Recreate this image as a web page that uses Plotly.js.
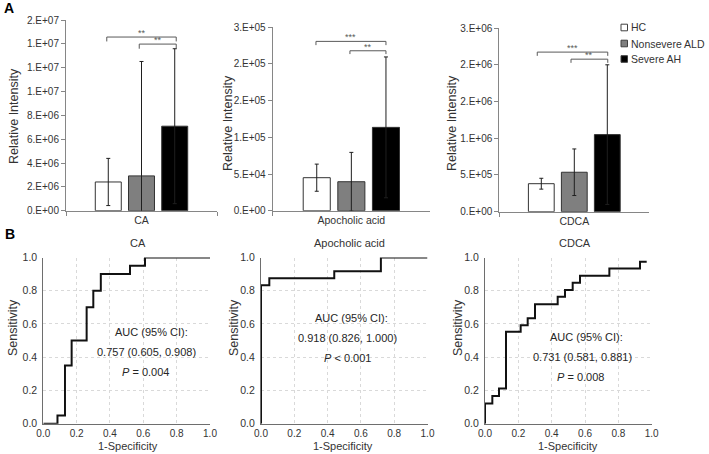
<!DOCTYPE html>
<html><head><meta charset="utf-8">
<script src="https://cdn.plot.ly/plotly-3.0.1.min.js"></script>
<style>html,body{margin:0;padding:0;background:#fff}#chart{width:709px;height:454px}</style>
</head><body><div id="chart"></div>
<script>
// ---------- data ----------
const groups = ['HC', 'Nonsevere ALD', 'Severe AH'];
const acids = ['CA', 'Apocholic acid', 'CDCA'];

const caMean = [2.41e6, 2.92e6, 7.09e6];
const caSD = [1.98e6, 9.6e6, 6.5e6];
const apoMean = [4.5e4, 3.95e4, 1.136e5];
const apoSD = [1.85e4, 4.0e4, 9.6e4];
const cdcaMean = [3.81e5, 5.37e5, 1.049e6];
const cdcaSD = [0.74e5, 3.17e5, 0.95e6];

const caTickVals = [0, 2e6, 4e6, 6e6, 8e6, 1e7, 1.2e7, 1.4e7, 1.6e7];
const caTickText = ['0.E+00', '2.E+06', '4.E+06', '6.E+06', '8.E+06', '1.E+07', '1.E+07', '1.E+07', '2.E+07'];
const apoTickVals = [0, 5e4, 1e5, 1.5e5, 2e5, 2.5e5];
const apoTickText = ['0.E+00', '5.E+04', '1.E+05', '2.E+05', '2.E+05', '3.E+05'];
const cdcaTickVals = [0, 5e5, 1e6, 1.5e6, 2e6, 2.5e6];
const cdcaTickText = ['0.E+00', '5.E+05', '1.E+06', '2.E+06', '2.E+06', '3.E+06'];

const sigLabels = [['**', '**'], ['***', '**'], ['***', '**']];

const caFpr = [0, 0.085, 0.13, 0.17, 0.26, 0.30, 0.345, 0.52, 0.61, 1.0];
const caTpr = [0, 0.05, 0.35, 0.50, 0.70, 0.80, 0.90, 0.95, 1.0, 1.0];
const apoFpr = [0, 0, 0.05, 0.44, 0.72, 1.0];
const apoTpr = [0, 0.833, 0.875, 0.917, 1.0, 1.0];
const cdcaFpr = [0, 0, 0.044, 0.084, 0.126, 0.214, 0.256, 0.30, 0.436, 0.48, 0.526, 0.57, 0.746, 0.93, 0.97];
const cdcaTpr = [0, 0.122, 0.166, 0.212, 0.553, 0.593, 0.635, 0.719, 0.764, 0.804, 0.848, 0.89, 0.934, 0.974, 0.974];

const caAuc = ['AUC (95% CI):', '0.757 (0.605, 0.908)', '<i>P</i> = 0.004'];
const apoAuc = ['AUC (95% CI):', '0.918 (0.826, 1.000)', '<i>P</i> < 0.001'];
const cdcaAuc = ['AUC (95% CI):', '0.731 (0.581, 0.881)', '<i>P</i> = 0.008'];

// ---------- layout helpers ----------
const W = 709, H = 454;
const px = p => p / W;
const py = p => 1 - p / H;
const FONT = 'Liberation Sans, Arial, sans-serif';
const TXT = '#333333';
const barColors = ['#ffffff', '#7f7f7f', '#000000'];

const means = [caMean, apoMean, cdcaMean];
const sds = [caSD, apoSD, cdcaSD];
const tickVals = [caTickVals, apoTickVals, cdcaTickVals];
const tickText = [caTickText, apoTickText, cdcaTickText];

const barPanels = [
  {x0: 66, x1: 217, top: 20, bot: 210.7, ymax: 1.6e7, titleX: 14, titleY: 116,
   br: [[-0.23, 0.23, 1.457e7, 1.42e7, 1.42e7], [-0.015, 0.23, 1.398e7, 1.359e7, 1.359e7]]},
  {x0: 272.7, x1: 430, top: 27.3, bot: 210.7, ymax: 2.5e5, titleX: 228, titleY: 123,
   br: [[-0.225, 0.22, 2.308e5, 2.257e5, 2.257e5], [-0.009, 0.22, 2.18e5, 2.135e5, 2.135e5]]},
  {x0: 499.3, x1: 649.3, top: 28, bot: 211.7, ymax: 2.5e6, titleX: 452, titleY: 123,
   br: [[-0.247, 0.223, 2.172e6, 2.121e6, 2.121e6], [-0.022, 0.223, 2.076e6, 2.026e6, 2.026e6]]}
];

const rocFpr = [caFpr, apoFpr, cdcaFpr];
const rocTpr = [caTpr, apoTpr, cdcaTpr];
const rocAuc = [caAuc, apoAuc, cdcaAuc];
const rocPanels = [
  {x0: 43.3, x1: 210, titleX: 138, ytX: 13, xtX: 128, aucX: [151, 146, 145.5], aucY: [331.7, 351.7, 371.7]},
  {x0: 261, x1: 427.5, titleX: 349, ytX: 234, xtX: 343, aucX: [351.7, 347.8, 347], aucY: [318.3, 338.3, 358.3]},
  {x0: 485, x1: 651.7, titleX: 575, ytX: 458, xtX: 568, aucX: [586, 582, 580.7], aucY: [337.3, 356.7, 376.7]}
];
const rocTop = 257.5, rocBot = 423.7;

const data = [];
const layout = {
  width: W, height: H,
  margin: {l: 0, r: 0, t: 0, b: 0},
  paper_bgcolor: '#ffffff', plot_bgcolor: 'rgba(0,0,0,0)',
  font: {family: FONT, color: TXT, size: 10},
  showlegend: false,
  barmode: 'group', bargap: 0.34, bargroupgap: 0.218,
  annotations: [], shapes: []
};

// ---------- bar panels ----------
barPanels.forEach((p, i) => {
  const n = i + 1;
  const xa = n === 1 ? 'x' : 'x' + n, ya = n === 1 ? 'y' : 'y' + n;
  const xk = n === 1 ? 'xaxis' : 'xaxis' + n, yk = n === 1 ? 'yaxis' : 'yaxis' + n;
  groups.forEach((g, j) => {
    data.push({
      type: 'bar', name: g, x: [acids[i]], y: [means[i][j]], xaxis: xa, yaxis: ya,
      marker: {color: barColors[j], line: {color: '#333333', width: 1}},
      error_y: {type: 'data', array: [sds[i][j]], visible: true, color: '#1f1f1f', thickness: 1, width: 2},
      hoverinfo: 'skip'
    });
  });
  layout[xk] = {
    domain: [px(p.x0), px(p.x1)], anchor: ya, type: 'category', range: [-0.5, 0.5],
    showline: true, linecolor: '#868686', linewidth: 1, ticks: 'outside', ticklen: 4,
    tickcolor: '#868686', tickson: 'boundaries', showgrid: false, zeroline: false,
    tickfont: {size: 10.5, color: TXT}, automargin: false, fixedrange: true
  };
  layout[yk] = {
    domain: [py(p.bot), py(p.top)], anchor: xa, range: [0, p.ymax],
    tickvals: tickVals[i], ticktext: tickText[i],
    showline: true, linecolor: '#868686', linewidth: 1, ticks: 'outside', ticklen: 4,
    tickcolor: '#868686', showgrid: false, zeroline: false,
    tickfont: {size: 10, color: TXT}, automargin: false, fixedrange: true
  };
  layout.annotations.push({
    text: 'Relative Intensity', xref: 'paper', yref: 'paper', x: px(p.titleX), y: py(p.titleY),
    textangle: -90, showarrow: false, font: {size: 12.5, color: TXT}, xanchor: 'center', yanchor: 'middle'
  });
  p.br.forEach((b, k) => {
    const [a, c, top, e1, e2] = b;
    const ln = {type: 'line', xref: xa, yref: ya, line: {color: '#595959', width: 1}};
    layout.shapes.push(Object.assign({}, ln, {x0: a, x1: c, y0: top, y1: top}));
    layout.shapes.push(Object.assign({}, ln, {x0: a, x1: a, y0: top, y1: e1}));
    layout.shapes.push(Object.assign({}, ln, {x0: c, x1: c, y0: top, y1: e2}));
    layout.annotations.push({
      text: sigLabels[i][k], xref: xa, yref: ya, x: (a + c) / 2, y: top,
      showarrow: false, xanchor: 'center', yanchor: 'bottom', yshift: -3,
      font: {size: 9, color: '#595959'}
    });
  });
});

// ---------- ROC panels ----------
rocPanels.forEach((p, i) => {
  const n = i + 4;
  const xa = 'x' + n, ya = 'y' + n;
  data.push({
    type: 'scatter', mode: 'lines', x: rocFpr[i], y: rocTpr[i], xaxis: xa, yaxis: ya,
    line: {color: '#111111', width: 2, shape: 'hv'}, cliponaxis: false, hoverinfo: 'skip'
  });
  const common = {
    range: [0, 1], dtick: 0.2, tick0: 0, tickformat: '.1f',
    showline: true, linecolor: '#6e6e6e', linewidth: 1, ticks: '',
    showgrid: true, gridcolor: '#d9d9d9', griddash: 'dot', gridwidth: 1,
    zeroline: false, tickfont: {size: 10.5, color: TXT}, automargin: false, fixedrange: true
  };
  layout['xaxis' + n] = Object.assign({}, common, {domain: [px(p.x0), px(p.x1)], anchor: ya,
    ticklabelstandoff: 0, tickfont: {size: 10, color: TXT}});
  layout['yaxis' + n] = Object.assign({}, common, {domain: [py(rocBot), py(rocTop)], anchor: xa, ticklabelstandoff: 3});
  layout.annotations.push({
    text: acids[i], xref: 'paper', yref: 'paper', x: px(p.titleX), y: py(243),
    showarrow: false, xanchor: 'center', yanchor: 'middle', font: {size: 11, color: TXT}
  });
  layout.annotations.push({
    text: 'Sensitivity', xref: 'paper', yref: 'paper', x: px(p.ytX), y: py(328),
    textangle: -90, showarrow: false, xanchor: 'center', yanchor: 'middle', font: {size: 12.5, color: TXT}
  });
  layout.annotations.push({
    text: '1-Specificity', xref: 'paper', yref: 'paper', x: px(p.xtX), y: py(454),
    showarrow: false, xanchor: 'center', yanchor: 'bottom', font: {size: 11, color: TXT}
  });
  rocAuc[i].forEach((t, k) => {
    layout.annotations.push({
      text: t, xref: 'paper', yref: 'paper', x: px(p.aucX[k]), y: py(p.aucY[k]),
      showarrow: false, xanchor: 'center', yanchor: 'middle', font: {size: 11, color: '#262626'}
    });
  });
});

// ---------- legend (drawn manually, right of CDCA panel) ----------
const legRows = [27.5, 43.5, 59];
groups.forEach((g, j) => {
  layout.shapes.push({
    type: 'rect', xref: 'paper', yref: 'paper',
    x0: px(621), x1: px(627.5), y0: py(legRows[j] + 3.3), y1: py(legRows[j] - 3.3),
    fillcolor: barColors[j], line: {color: '#404040', width: 1}
  });
  layout.annotations.push({
    text: g, xref: 'paper', yref: 'paper', x: px(629), y: py(legRows[j]),
    showarrow: false, xanchor: 'left', yanchor: 'middle', font: {size: 10.5, color: TXT}
  });
});

// panel letters
layout.annotations.push({text: '<b>A</b>', xref: 'paper', yref: 'paper', x: px(2), y: py(8),
  showarrow: false, xanchor: 'left', yanchor: 'middle', font: {size: 14, color: '#000'}});
layout.annotations.push({text: '<b>B</b>', xref: 'paper', yref: 'paper', x: px(3), y: py(234),
  showarrow: false, xanchor: 'left', yanchor: 'middle', font: {size: 14, color: '#000'}});

Plotly.newPlot('chart', data, layout, {staticPlot: true, displayModeBar: false});
</script>
</body></html>
